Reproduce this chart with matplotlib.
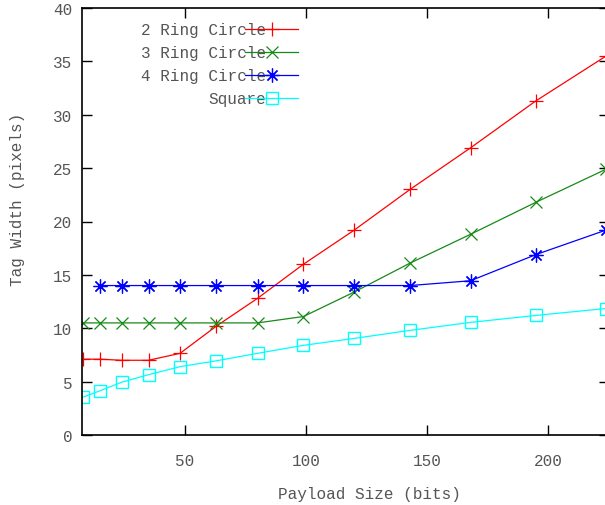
import matplotlib
matplotlib.use('Agg')
import matplotlib.pyplot as plt

# Data
payload_bits = [8, 15, 24, 35, 48, 63, 80, 99, 120, 143, 168, 195, 224]
ring2 = [7.1, 7.1, 7.0, 7.0, 7.65, 10.2, 12.8, 16.0, 19.2, 23.0, 26.9, 31.3, 35.5]
ring3 = [10.5, 10.5, 10.5, 10.5, 10.5, 10.5, 10.5, 11.1, 13.4, 16.1, 18.8, 21.8, 24.9]
ring4_bits = [15, 24, 35, 48, 63, 80, 99, 120, 143, 168, 195, 224]
ring4 = [14.0, 14.0, 14.0, 14.0, 14.0, 14.0, 14.0, 14.0, 14.0, 14.45, 16.9, 19.2]
square = [3.55, 4.15, 4.95, 5.65, 6.4, 6.95, 7.65, 8.4, 9.05, 9.8, 10.55, 11.2, 11.85]

x_ticks = [50, 100, 150, 200]
y_ticks = [0, 5, 10, 15, 20, 25, 30, 35, 40]

font = 'Liberation Mono'
text_color = '#555555'
fs = 11.5

W, H = 605, 506
fig = plt.figure(figsize=(W / 100, H / 100), dpi=100)
# axes runs slightly past the right edge, as in the cropped original
ax = fig.add_axes([82 / W, 70 / H, 526.5 / W, 427 / H])

ax.plot(payload_bits, ring2, color='#ff0000', lw=0.9, marker='+',
        ms=10, mew=0.9, label='2 Ring Circle')
ax.plot(payload_bits, ring3, color='#168a16', lw=0.9, marker='x',
        ms=9, mew=0.9, label='3 Ring Circle')
ax.plot(ring4_bits, ring4, color='#0000ff', lw=0.9, marker=(8, 2, 0),
        ms=10, mew=0.9, label='4 Ring Circle')
ax.plot(payload_bits, square, color='#00ffff', lw=0.9, marker='s',
        ms=8, mew=1.0, mfc='none', label='Square')

ax.set_xlim(7.5, 225)
ax.set_ylim(0, 40)
ax.set_xticks(x_ticks)
ax.set_yticks(y_ticks)

for sp in ax.spines.values():
    sp.set_linewidth(1.2)
    sp.set_color('black')

ax.tick_params(axis='both', direction='in', length=7, width=1.0,
               top=True, right=True, labelcolor=text_color, labelsize=fs)
ax.tick_params(axis='x', pad=13)
ax.tick_params(axis='y', pad=7)
for lbl in ax.get_xticklabels() + ax.get_yticklabels():
    lbl.set_fontfamily(font)

ax.set_xlabel('Payload Size (bits)', fontfamily=font, fontsize=fs,
              color=text_color, va='center')
ax.set_ylabel('Tag Width (pixels)', fontfamily=font, fontsize=fs,
              color=text_color, va='center')
# label positions as in the original (x label sits right of centre)
ax.xaxis.set_label_coords(0.546, -0.138)
ax.yaxis.set_label_coords(-0.122, 0.553)

leg = ax.legend(loc='upper right', bbox_to_anchor=(298 / W, 1 - 23.5 / H),
                bbox_transform=fig.transFigure, frameon=False,
                markerfirst=False, numpoints=1, handlelength=3.3,
                handletextpad=-1.3, labelspacing=0.5, borderpad=0,
                borderaxespad=0, prop={'family': font, 'size': fs})
for t in leg.get_texts():
    t.set_color(text_color)

fig.savefig('out.png', dpi=100)
